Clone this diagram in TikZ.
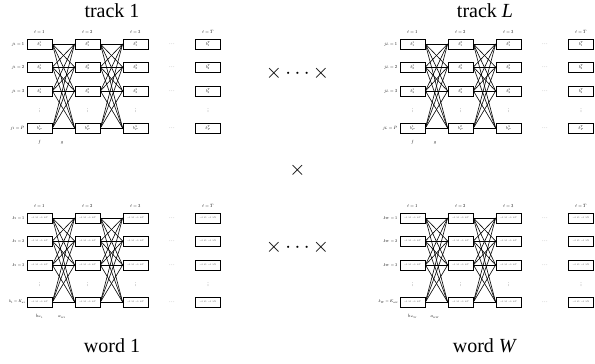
\documentclass[tikz,border=0pt]{standalone}
\usepackage{graphicx}
\usepackage{fontspec}
\setmainfont{Liberation Serif}
\tikzset{
  cellbox/.style={draw, line width=0.8pt, minimum width=25pt, minimum height=10pt, inner sep=0pt},
  lab/.style={inner sep=0pt},
  conn/.style={line width=0.6pt},
  ttl/.style={font=\fontsize{20}{22}\selectfont, inner sep=0pt},
  bigop/.style={font=\fontsize{22}{24}\selectfont, inner sep=0pt}
}
\newcommand\smath[2]{\scalebox{#1}{$#2$}}
\newcommand\wordcell{\color{black!75}\smath{0.34}{\to s_1\to s_{N}}}
% #1 prefix, #2 x shift, #3 y shift, #4 index var, #5 last value, #6 mode (0 track,1 word), #7 #8 bottom labels
\newcommand\mkblock[8]{%
  \begin{scope}[shift={(#2,#3)}]
    \foreach \c/\xx/\tt in {1/39.5/1,2/87.5/2,3/135.5/3,4/208/T}{
      \node[lab] at (\xx,32) {\smath{0.46}{t=\tt}};
      \foreach \r/\yy/\jj in {1/44/1,2/67/2,3/91/3,4/128/{#5}}{
        \ifnum#6=0
          \node[cellbox] (#1-\c-\r) at (\xx,\yy) {\smath{0.42}{b^{\tt}_{\jj}}};
        \else
          \node[cellbox] (#1-\c-\r) at (\xx,\yy) {\wordcell};
        \fi
      }
      \node[lab] at (\xx,110) {\smath{0.4}{\vdots}};
    }
    \foreach \r/\yy/\jj in {1/44/1,2/67/2,3/91/3}{
      \ifnum#6=0
        \node[lab, anchor=east] at (24.5,\yy) {\smath{0.46}{#4=\jj}};
      \else
        \node[lab, anchor=east] at (24.5,\yy) {\smath{0.42}{#4=\jj}};
      \fi
      \node[lab] at (172,\yy) {\smath{0.46}{\cdots}};
    }
    \ifnum#6=0
      \node[lab, anchor=east] at (24.5,128) {\smath{0.46}{#4=#5}};
    \else
      \node[lab, anchor=east] at (26,128) {\smath{0.4}{#4=#5}};
    \fi
    \node[lab] at (172,128) {\smath{0.46}{\cdots}};
    \node[lab] at (39.5,142) {\smath{0.46}{#7}};
    \node[lab] at (62,143) {\smath{0.46}{#8}};
  \end{scope}
  \foreach \a in {1,...,4}{
    \foreach \b in {1,...,4}{
      \draw[conn] (#1-1-\a.east) -- (#1-2-\b.west);
      \draw[conn] (#1-2-\a.east) -- (#1-3-\b.west);
    }
  }
}
\begin{document}
\begin{tikzpicture}[x=1pt,y=-1pt]
  \useasboundingbox (0,0) rectangle (595,364);
  \mkblock{A}{0}{0}{j_1}{P}{0}{f}{g}
  \mkblock{B}{373}{0}{j_L}{P}{0}{f}{g}
  \mkblock{C}{0}{174}{k_1}{K_{w_1}}{1}{h_{w_1}}{a_{w_1}}
  \mkblock{D}{373}{174}{k_W}{K_{w_W}}{1}{h_{w_W}}{a_{w_W}}
  \node[ttl] (t1) at (112,11) {track 1};
  \node[ttl] (tL) at (485,11) {track \textit{L}};
  \node[ttl] (w1) at (112,346) {word 1};
  \node[ttl] (wW) at (485,346) {word \textit{W}};
  \node[bigop] (x1) at (297.5,73) {$\times\cdots\times$};
  \node[bigop] (x2) at (297.5,170) {$\times$};
  \node[bigop] (x3) at (297.5,247) {$\times\cdots\times$};
\end{tikzpicture}
\end{document}
